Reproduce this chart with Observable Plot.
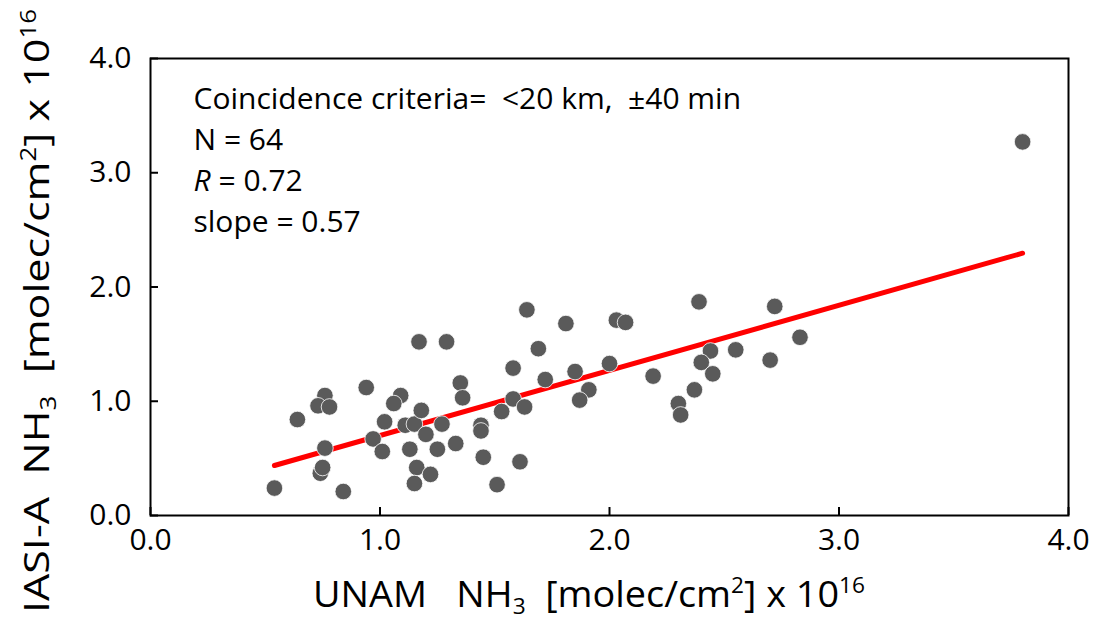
<!DOCTYPE html>
<html><head><meta charset="utf-8">
<script src="https://cdn.jsdelivr.net/npm/d3@7"></script>
<script src="https://cdn.jsdelivr.net/npm/@observablehq/plot@0.6"></script>
<style>body{margin:0;background:#fff}</style>
</head><body><div id="chart"></div>
<script>
// UNAM (x) vs IASI-A (y) NH3 columns, x 10^16 molec/cm2
const unamX = [0.54,0.64,0.76,0.73,0.78,0.94,0.76,0.74,0.75,0.84,1.02,1.09,1.06,0.97,1.01,1.11,1.15,1.18,1.20,1.27,1.13,1.16,1.15,1.22,1.25,1.33,1.35,1.36,1.44,1.44,1.45,1.51,1.53,1.17,1.29,1.64,1.81,1.69,1.58,1.72,1.85,2.00,2.03,2.07,1.91,1.87,1.58,1.63,1.61,2.19,2.39,2.72,2.83,2.55,2.70,2.44,2.40,2.45,2.37,2.30,2.31,3.80];
const iasiY = [0.24,0.84,1.05,0.96,0.95,1.12,0.59,0.37,0.42,0.21,0.82,1.05,0.98,0.67,0.56,0.79,0.80,0.92,0.71,0.80,0.58,0.42,0.28,0.36,0.58,0.63,1.16,1.03,0.79,0.74,0.51,0.27,0.91,1.52,1.52,1.80,1.68,1.46,1.29,1.19,1.26,1.33,1.71,1.69,1.10,1.01,1.02,0.95,0.47,1.22,1.87,1.83,1.56,1.45,1.36,1.44,1.34,1.24,1.10,0.98,0.88,3.27];
const xTicks = [0, 1, 2, 3, 4];
const yTicks = [0, 1, 2, 3, 4];
const fitSlope = 0.57;
const fitIntercept = 0.13;
const statLines = ["Coincidence criteria=  <20 km,  \u00b140 min", "N = 64", "R = 0.72", "slope = 0.57"];

const pts = unamX.map((x, i) => ({x, y: iasiY[i]}));
const xr = d3.extent(unamX);
const fit = xr.map(x => ({x, y: fitIntercept + fitSlope * x}));

const W = 1093, H = 622, mL = 150, mR = 25, mT = 58, mB = 107;
const fw = W - mL - mR, fh = H - mT - mB;

const chart = Plot.plot({
  width: W, height: H,
  marginLeft: mL, marginRight: mR, marginTop: mT, marginBottom: mB,
  style: {fontFamily: "'Open Sans', sans-serif", background: "#fff", color: "#000"},
  x: {domain: [0, 4], label: null},
  y: {domain: [0, 4], label: null},
  marks: [
    Plot.frame({stroke: "#000", strokeWidth: 2}),
    Plot.ruleX(xTicks, {x: d => d, insetTop: fh - 8, stroke: "#000", strokeWidth: 2}),
    Plot.ruleY(yTicks, {y: d => d, insetRight: fw - 8, stroke: "#000", strokeWidth: 2}),
    Plot.axisX(xTicks, {tickSize: 0, tickPadding: 13, tickFormat: d => d.toFixed(1), fontSize: 30}),
    Plot.axisY(yTicks, {tickSize: 0, tickPadding: 19, tickFormat: d => d.toFixed(1), fontSize: 30}),
    Plot.line(fit, {x: "x", y: "y", stroke: "#ff0000", strokeWidth: 5, strokeLinecap: "round"}),
    Plot.dot(pts, {x: "x", y: "y", r: 8.3, fill: "#5a5a5a", stroke: "#fff", strokeWidth: 0.8}),
    Plot.text([statLines.join("\n")], {frameAnchor: "top-left", dx: 43, dy: 22, fontSize: 30, lineHeight: 1.36, textAnchor: "start", lineAnchor: "top", fill: "#000"})
  ]
});
document.getElementById("chart").appendChild(chart);

const svg = d3.select(chart);
// italic R
svg.selectAll("tspan").each(function() {
  const t = d3.select(this);
  if (t.text() === "R = 0.72") {
    t.text(null);
    t.append("tspan").attr("font-style", "italic").text("R");
    t.append("tspan").text(" = 0.72");
  }
});

function addLabel(g, parts, size) {
  parts.forEach(([txt, kind]) => {
    const s = g.append("tspan").text(txt);
    if (kind === "sub") s.attr("font-size", size * 0.6).attr("dy", size * 0.2);
    if (kind === "sup") s.attr("font-size", size * 0.6).attr("dy", -size * 0.38);
    if (kind === "after-sub") s.attr("dy", -size * 0.2);
    if (kind === "after-sup") s.attr("dy", size * 0.38);
  });
}
const xl = svg.append("text").attr("x", 589).attr("y", 607).attr("text-anchor", "middle")
  .attr("font-family", "'Open Sans', sans-serif").attr("font-size", 37)
  .attr("textLength", 552).attr("lengthAdjust", "spacingAndGlyphs");
addLabel(xl, [["UNAM   NH", ""], ["3", "sub"], ["  [molec/cm", "after-sub"], ["2", "sup"], ["] x 10", "after-sup"], ["16", "sup"]], 37);

const yl = svg.append("text").attr("transform", "translate(49,311) rotate(-90)").attr("text-anchor", "middle")
  .attr("font-family", "'Open Sans', sans-serif").attr("font-size", 35)
  .attr("textLength", 604).attr("lengthAdjust", "spacingAndGlyphs");
addLabel(yl, [["IASI-A  NH", ""], ["3", "sub"], ["  [molec/cm", "after-sub"], ["2", "sup"], ["] x 10", "after-sup"], ["16", "sup"]], 35);
</script>
</body></html>
